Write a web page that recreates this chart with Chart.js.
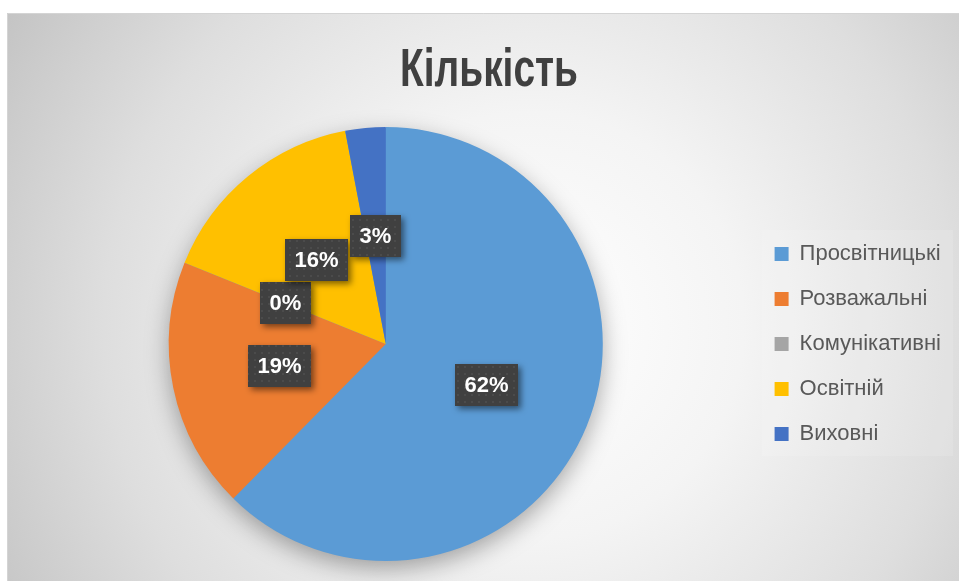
<!DOCTYPE html>
<html>
<head>
<meta charset="utf-8">
<script src="https://cdn.jsdelivr.net/npm/chart.js@4.4.0/dist/chart.umd.min.js"></script>
<style>
  html, body { margin: 0; padding: 0; background: #ffffff; }
  #wrap { position: relative; width: 959px; height: 581px; }
  canvas { display: block; }
</style>
</head>
<body>
<div id="wrap"><canvas id="c" width="959" height="581"></canvas></div>
<script>
// ---- data ----
const chartTitle = 'Кількість';
const categories = ['Просвітницькі', 'Розважальні', 'Комунікативні', 'Освітній', 'Виховні'];
const values = [62.4, 18.7, 0, 15.9, 3.0];
const sliceColors = ['#5b9bd5', '#ed7d31', '#a5a5a5', '#ffc000', '#4472c4'];

const FONT = "'Liberation Sans', Arial, sans-serif";

// dotted pattern for label boxes
function makePattern() {
  const p = document.createElement('canvas');
  p.width = 7; p.height = 7;
  const g = p.getContext('2d');
  g.fillStyle = '#404040';
  g.fillRect(0, 0, 7, 7);
  g.fillStyle = '#4b4b4b';
  g.fillRect(2, 2, 2, 2);
  return g.createPattern(p, 'repeat');
}

const backgroundPlugin = {
  id: 'bg',
  beforeDraw(chart) {
    const ctx = chart.ctx;
    ctx.save();
    ctx.fillStyle = '#ffffff';
    ctx.fillRect(0, 0, chart.width, chart.height);
    const x0 = 7, y0 = 13, w = chart.width - x0, h = chart.height - y0;
    const cx = x0 + w * 0.55, cy = y0 + h * 0.55;
    const r = Math.hypot(w * 0.55, h * 0.55);
    const grad = ctx.createRadialGradient(cx, cy, 0, cx, cy, r);
    grad.addColorStop(0, '#ffffff');
    grad.addColorStop(0.35, '#f4f4f4');
    grad.addColorStop(0.7, '#dedede');
    grad.addColorStop(1, '#c4c4c4');
    ctx.fillStyle = grad;
    ctx.fillRect(x0, y0, w, h);
    ctx.strokeStyle = '#d4d4d4';
    ctx.lineWidth = 1;
    ctx.beginPath();
    ctx.moveTo(x0 + 0.5, chart.height);
    ctx.lineTo(x0 + 0.5, y0 + 0.5);
    ctx.lineTo(chart.width, y0 + 0.5);
    ctx.stroke();
    // legend backdrop
    ctx.fillStyle = 'rgba(255,255,255,0.12)';
    ctx.fillRect(762, 230, 191, 226);
    // title (condensed bold)
    ctx.font = 'bold 54px ' + FONT;
    ctx.fillStyle = '#404040';
    ctx.textBaseline = 'alphabetic';
    ctx.textAlign = 'left';
    const tw = ctx.measureText(chartTitle).width;
    const targetW = 178;
    const sx = targetW / tw;
    ctx.translate(489 - targetW / 2, 86);
    ctx.scale(sx, 1);
    ctx.fillText(chartTitle, 0, 0);
    ctx.restore();
  }
};

const shadowPlugin = {
  id: 'pieShadow',
  beforeDatasetsDraw(chart) {
    const arc = chart.getDatasetMeta(0).data[0];
    if (!arc) return;
    const {x, y, outerRadius} = arc.getProps(['x', 'y', 'outerRadius'], true);
    const ctx = chart.ctx;
    ctx.save();
    ctx.shadowColor = 'rgba(0,0,0,0.35)';
    ctx.shadowBlur = 24;
    ctx.shadowOffsetX = 0;
    ctx.shadowOffsetY = 8;
    ctx.fillStyle = '#5b9bd5';
    ctx.beginPath();
    ctx.arc(x, y, outerRadius - 1, 0, Math.PI * 2);
    ctx.fill();
    ctx.restore();
  }
};

const labelPlugin = {
  id: 'boxLabels',
  afterDatasetsDraw(chart) {
    const ctx = chart.ctx;
    const meta = chart.getDatasetMeta(0);
    const data = chart.data.datasets[0].data;
    const total = data.reduce((a, b) => a + b, 0);
    const pattern = makePattern();
    ctx.save();
    ctx.font = 'bold 22px ' + FONT;
    ctx.textAlign = 'center';
    ctx.textBaseline = 'middle';
    meta.data.forEach((arc, i) => {
      const p = arc.getProps(['x', 'y', 'startAngle', 'endAngle', 'outerRadius'], true);
      const mid = (p.startAngle + p.endAngle) / 2;
      const d = p.outerRadius * 0.5;
      const lx = p.x + Math.cos(mid) * d;
      const ly = p.y + Math.sin(mid) * d;
      const txt = Math.round(data[i] / total * 100) + '%';
      const tw = ctx.measureText(txt).width;
      const bw = Math.round(tw + 19), bh = 42;
      const bx = Math.round(lx - bw / 2), by = Math.round(ly - bh / 2);
      ctx.save();
      ctx.shadowColor = 'rgba(0,0,0,0.5)';
      ctx.shadowBlur = 6;
      ctx.shadowOffsetX = 3;
      ctx.shadowOffsetY = 3;
      ctx.fillStyle = pattern;
      ctx.fillRect(bx, by, bw, bh);
      ctx.restore();
      ctx.fillStyle = '#ffffff';
      ctx.fillText(txt, bx + bw / 2, by + bh / 2 + 1);
    });
    ctx.restore();
  }
};

new Chart(document.getElementById('c'), {
  type: 'pie',
  data: {
    labels: categories,
    datasets: [{
      data: values,
      backgroundColor: sliceColors,
      borderWidth: 0
    }]
  },
  options: {
    responsive: false,
    devicePixelRatio: 1,
    animation: false,
    layout: { padding: { top: 127, bottom: 20, left: 20, right: 8 } },
    plugins: {
      title: { display: false },
      tooltip: { enabled: false },
      legend: {
        display: true,
        position: 'right',
        align: 'center',
        labels: {
          boxWidth: 14,
          boxHeight: 14,
          padding: 23,
          color: '#595959',
          font: { family: FONT, size: 22 }
        }
      }
    }
  },
  plugins: [backgroundPlugin, shadowPlugin, labelPlugin]
});
</script>
</body>
</html>
